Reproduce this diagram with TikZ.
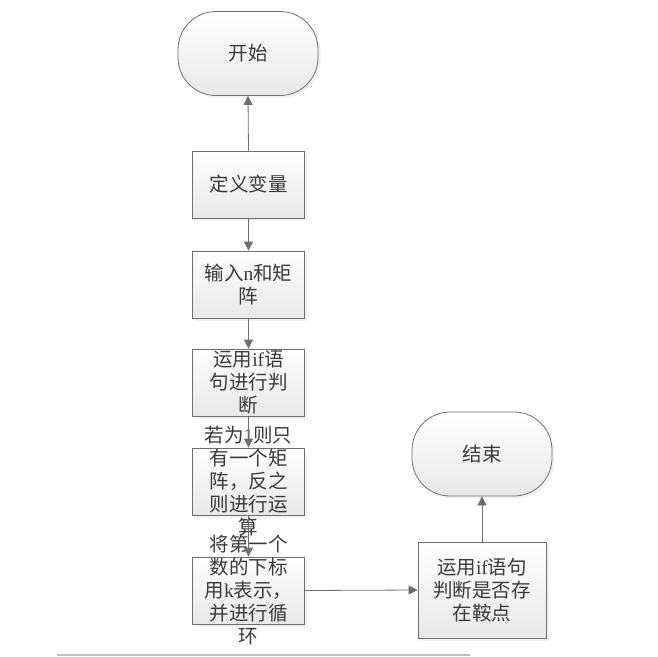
\documentclass[tikz,border=0pt]{standalone}
\usepackage{fontspec}
\setmainfont{Noto Sans CJK SC}
\newfontfamily\lat{Liberation Serif}
\usetikzlibrary{arrows.meta,shadows}
\definecolor{borde}{HTML}{6E6E6E}
\definecolor{texto}{HTML}{3A3A3A}
\definecolor{fondo}{HTML}{E8E8E8}

\begin{document}
\begin{tikzpicture}[x=1pt,y=-1pt,line width=0.8pt,>={Triangle[length=9pt,width=9pt]},
  caja/.style={draw=borde,top color=white,bottom color=fondo,inner sep=0pt,
    minimum width=112pt,minimum height=67pt,
    drop shadow={shadow xshift=2.5pt,shadow yshift=-2.5pt,fill=black!10}},
  term/.style={caja,rounded corners=38pt,minimum width=140pt,minimum height=84pt},
  txt/.style={text=texto,align=center,inner sep=0pt,font=\fontsize{19.5}{23}\selectfont}]
  \useasboundingbox (0,0) rectangle (658,656);
  % inicio y fin
  \node[term] (ini) at (248,53.5) {};
  \node[txt] (tini) at (ini) {开始};
  \node[term] (fin) at (482,454) {};
  \node[txt] (tfin) at (fin) {结束};
  % cajas
  \node[caja] (b1) at (248.5,184.5) {};
  \node[caja] (b2) at (248.5,284.5) {};
  \node[caja] (b3) at (248.5,382.5) {};
  \node[caja] (b4) at (248.5,481.5) {};
  \node[caja] (b5) at (248.5,590.5) {};
  \node[caja,minimum width=128pt,minimum height=96pt] (b6) at (482,590) {};
  % textos
  \node[txt] (t1) at (b1) {定义变量};
  \node[txt] (t2) at (b2) {输入{\lat n}和矩\\阵};
  \node[txt] (t3) at (b3) {运用{\lat if}语\\句进行判\\断};
  \node[txt] (t4) at (b4) {若为{\lat 1}则只\\有一个矩\\阵，反之\\则进行运\\算};
  \node[txt] (t5) at (b5) {将第一个\\数的下标\\用{\lat k}表示，\\并进行循\\环};
  \node[txt] (t6) at (b6) {运用{\lat if}语句\\判断是否存\\在鞍点};
  % flechas
  \draw[->,borde] (b1.north) -- (ini.south);
  \foreach \a/\b in {b1/b2,b2/b3,b3/b4,b4/b5}
    \draw[->,borde] (\a.south) -- (\b.north);
  \draw[->,borde] (b5.east) -- (b6.west);
  \draw[->,borde] (b6.north) -- (fin.south);
  % linea inferior
  \draw[black!25,line width=2pt] (57,655) -- (470,655);
\end{tikzpicture}
\end{document}
